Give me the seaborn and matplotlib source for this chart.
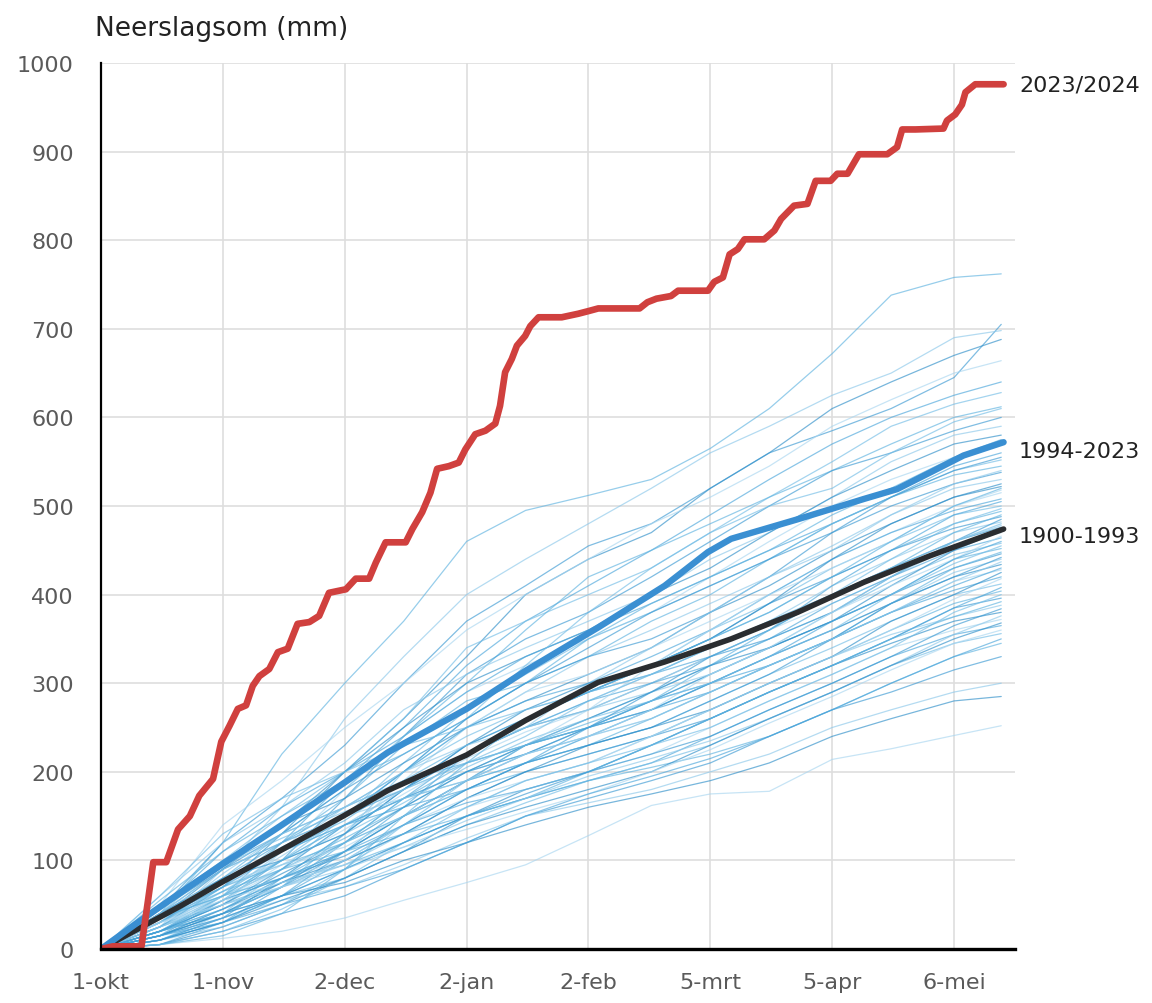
import numpy as np
import pandas as pd
import matplotlib
matplotlib.use("Agg")
import matplotlib.pyplot as plt
import seaborn as sns

# ---------------- data ----------------
tick_days = [0, 31, 62, 93, 124, 155, 186, 217]
tick_labels = ["1-okt", "1-nov", "2-dec", "2-jan", "2-feb", "5-mrt", "5-apr", "6-mei"]
y_ticks = [0, 100, 200, 300, 400, 500, 600, 700, 800, 900, 1000]

# 2023/2024 season (cumulative mm)
red_day = [0, 3, 10.3, 12, 13.3, 16.6, 19.6, 22.6, 25, 28.5, 30.6, 32.7, 34.8, 36.9, 38.6,
           40.3, 42.8, 45, 47.5, 50, 53, 55.5, 58, 62.3, 64.8, 68.2, 69.9, 72.4, 77.5, 79.2,
           81.7, 83.8, 85.5, 88.5, 91, 92.7, 95.2, 97.8, 100.3, 101.5, 102.8, 104.5, 105.8,
           107.9, 109.2, 111.3, 117.2, 121.4, 124, 126.5, 137, 139, 141.3, 145, 146.8, 154.4,
           156, 158.2, 159.9, 162, 163.7, 168.7, 171.3, 173, 176.3, 179.7, 181.8, 185.6, 187.3,
           189.9, 192.8, 200, 202.5, 203.8, 207.2, 214.3, 215.2, 217.3, 219, 219.9, 222.4, 229.6]
red_mm = [0, 3, 3, 56, 98, 98, 135, 150, 173, 192, 234, 252, 271, 275, 297,
          308, 316, 335, 339, 367, 369, 376, 402, 406, 418, 418, 436, 459, 459, 474,
          493, 515, 542, 545, 549, 564, 581, 585, 593, 613, 651, 666, 681,
          692, 703, 713, 713, 717, 720, 723, 723, 730, 734, 737, 743, 743,
          753, 758, 784, 790, 801, 801, 811, 824, 839, 841, 867, 867, 875,
          875, 897, 897, 905, 925, 925, 926, 935, 942, 953, 967, 976, 976]

# mean 1994-2023
blue_day = [0, 10, 20, 31, 46, 62, 73, 93, 108, 126.5, 143.4, 154.4, 160.3, 177.2, 194.1,
            202.5, 211, 219.4, 229.6]
blue_mm = [0, 32, 63, 96, 140, 188, 222, 271, 314, 363, 410, 448, 463, 485, 508,
           519, 538, 557, 572]

# mean 1900-1993
black_day = [0, 10, 20, 31, 46, 62, 73, 93, 108, 126.5, 143.4, 160.3, 177.2, 194.1, 211, 229.6]
black_mm = [0, 24, 48, 76, 112, 151, 179, 219, 258, 301, 324, 350, 380, 414, 444, 474]

# individual seasons (estimated traces)
thin_days = [0, 15, 31, 46, 62, 77, 93, 108, 124, 140, 155, 170, 186, 201, 217, 229]
thin_lines = [
    [0, 40, 120, 220, 300, 370, 460, 495, 512, 530, 565, 610, 672, 738, 758, 762],
    [0, 45, 120, 170, 230, 300, 370, 410, 455, 480, 520, 560, 585, 610, 645, 705],
    [0, 25, 90, 160, 260, 330, 400, 440, 480, 520, 560, 590, 625, 650, 690, 698],
    [0, 35, 70, 130, 200, 260, 330, 400, 440, 470, 520, 560, 610, 640, 670, 688],
    [0, 50, 140, 190, 250, 300, 360, 400, 440, 480, 510, 545, 590, 620, 650, 664],
    [0, 20, 60, 120, 190, 250, 320, 370, 410, 450, 490, 530, 570, 600, 625, 640],
    [0, 40, 100, 150, 200, 260, 340, 370, 400, 430, 470, 510, 550, 590, 615, 628],
    [0, 30, 80, 130, 180, 240, 300, 360, 420, 450, 480, 510, 540, 570, 600, 612],
    [0, 15, 55, 100, 170, 240, 310, 350, 380, 420, 460, 500, 540, 560, 585, 600],
    [0, 60, 120, 160, 210, 270, 310, 340, 370, 400, 440, 470, 510, 550, 580, 590],
    [0, 35, 90, 140, 200, 250, 300, 330, 360, 400, 430, 470, 510, 540, 570, 580],
    [0, 20, 50, 110, 180, 240, 290, 320, 350, 380, 420, 460, 500, 530, 555, 570],
    [0, 45, 110, 160, 200, 240, 290, 330, 360, 390, 420, 450, 480, 510, 545, 560],
    [0, 10, 40, 90, 150, 210, 270, 310, 350, 380, 410, 440, 480, 510, 540, 552],
    [0, 30, 70, 120, 170, 230, 280, 300, 330, 370, 400, 440, 480, 510, 535, 545],
    [0, 40, 90, 130, 180, 220, 260, 300, 340, 380, 410, 440, 470, 500, 525, 538],
    [0, 25, 65, 105, 150, 200, 250, 290, 330, 360, 390, 420, 455, 490, 520, 530],
    [0, 50, 100, 140, 170, 210, 250, 280, 310, 340, 380, 410, 450, 480, 510, 522],
    [0, 15, 45, 80, 130, 190, 250, 290, 310, 340, 370, 400, 440, 470, 500, 515],
    [0, 35, 80, 120, 160, 200, 250, 280, 300, 330, 360, 400, 440, 470, 495, 508],
    [0, 20, 60, 100, 150, 200, 240, 270, 290, 320, 360, 390, 430, 460, 490, 500],
    [0, 40, 75, 110, 145, 190, 230, 260, 290, 320, 350, 380, 420, 450, 480, 494],
    [0, 10, 35, 80, 130, 180, 230, 260, 290, 320, 350, 390, 420, 450, 475, 488],
    [0, 30, 70, 100, 140, 180, 220, 250, 280, 310, 340, 370, 410, 440, 470, 482],
    [0, 45, 90, 120, 150, 180, 220, 250, 270, 300, 330, 360, 400, 430, 460, 476],
    [0, 20, 55, 95, 135, 175, 215, 245, 270, 300, 330, 360, 390, 420, 455, 470],
    [0, 5, 30, 70, 120, 170, 220, 250, 280, 300, 320, 350, 390, 420, 450, 464],
    [0, 35, 65, 100, 130, 165, 205, 235, 260, 290, 320, 350, 380, 415, 445, 458],
    [0, 25, 60, 90, 125, 160, 200, 230, 255, 280, 310, 340, 370, 400, 440, 452],
    [0, 15, 40, 70, 110, 150, 190, 220, 250, 280, 310, 340, 370, 400, 430, 446],
    [0, 40, 80, 110, 140, 170, 200, 220, 240, 270, 300, 330, 360, 390, 425, 440],
    [0, 20, 50, 85, 120, 160, 200, 230, 250, 270, 300, 330, 360, 390, 420, 434],
    [0, 30, 60, 90, 120, 150, 180, 210, 240, 260, 290, 320, 350, 380, 415, 428],
    [0, 10, 30, 60, 100, 140, 180, 210, 240, 270, 300, 320, 350, 380, 405, 420],
    [0, 25, 55, 80, 110, 150, 190, 210, 230, 250, 280, 310, 340, 370, 400, 412],
    [0, 35, 70, 95, 120, 150, 180, 200, 220, 240, 270, 300, 330, 360, 390, 404],
    [0, 15, 40, 70, 100, 130, 170, 200, 220, 240, 260, 290, 320, 350, 385, 396],
    [0, 20, 45, 70, 95, 130, 160, 190, 210, 240, 270, 300, 330, 355, 375, 388],
    [0, 5, 25, 50, 80, 110, 150, 180, 200, 230, 260, 290, 320, 345, 370, 380],
    [0, 30, 60, 80, 100, 130, 160, 180, 200, 220, 250, 280, 310, 340, 360, 372],
    [0, 10, 35, 60, 90, 120, 150, 170, 190, 210, 240, 270, 300, 330, 355, 365],
    [0, 20, 40, 60, 80, 110, 140, 165, 190, 210, 230, 260, 290, 320, 345, 356],
    [0, 25, 50, 75, 95, 120, 150, 170, 190, 205, 220, 240, 270, 300, 330, 345],
    [0, 5, 20, 40, 60, 90, 120, 150, 170, 190, 210, 240, 270, 290, 315, 330],
    [0, 15, 35, 55, 70, 95, 125, 150, 165, 180, 200, 220, 250, 270, 290, 300],
    [0, 20, 40, 60, 75, 100, 120, 140, 160, 175, 190, 210, 240, 260, 280, 285],
    [0, 5, 12, 20, 35, 55, 75, 95, 128, 162, 175, 178, 214, 226, 241, 252],
    [0, 50, 95, 130, 160, 190, 210, 230, 250, 270, 290, 320, 350, 380, 410, 430],
    [0, 20, 40, 70, 130, 200, 260, 320, 380, 430, 470, 500, 520, 560, 595, 610],
    [0, 55, 110, 150, 190, 220, 260, 300, 350, 390, 420, 450, 490, 520, 555, 575],
    [0, 30, 75, 115, 150, 200, 260, 300, 330, 350, 380, 420, 470, 510, 540, 555],
    [0, 15, 60, 110, 160, 190, 220, 250, 300, 340, 380, 420, 450, 490, 525, 540],
    [0, 40, 80, 100, 130, 180, 230, 270, 300, 320, 350, 390, 440, 480, 510, 525],
    [0, 25, 55, 90, 140, 180, 210, 230, 270, 320, 360, 400, 430, 460, 500, 518],
    [0, 10, 30, 60, 110, 160, 220, 260, 290, 310, 330, 360, 410, 450, 490, 505],
    [0, 50, 95, 125, 155, 180, 210, 240, 280, 310, 340, 370, 400, 440, 480, 497],
    [0, 35, 60, 80, 120, 170, 210, 230, 250, 280, 320, 360, 400, 430, 470, 490],
    [0, 20, 50, 90, 140, 170, 200, 220, 250, 290, 330, 350, 380, 420, 460, 485],
    [0, 30, 85, 130, 160, 200, 230, 250, 270, 290, 310, 340, 380, 420, 460, 478],
    [0, 15, 40, 75, 110, 150, 190, 230, 260, 290, 320, 340, 370, 410, 450, 472],
    [0, 45, 75, 95, 115, 150, 190, 220, 240, 270, 310, 340, 380, 410, 440, 466],
    [0, 25, 70, 110, 140, 160, 180, 210, 250, 280, 300, 330, 370, 400, 440, 460],
    [0, 10, 25, 50, 90, 140, 190, 230, 260, 280, 300, 330, 360, 400, 435, 455],
    [0, 35, 60, 100, 140, 170, 190, 210, 230, 260, 290, 320, 350, 390, 430, 448],
    [0, 20, 55, 80, 105, 140, 180, 210, 230, 250, 280, 310, 350, 390, 420, 442],
    [0, 40, 90, 120, 150, 170, 190, 220, 240, 260, 290, 320, 350, 380, 415, 437],
    [0, 15, 45, 75, 100, 130, 170, 200, 230, 250, 270, 300, 330, 370, 400, 425],
    [0, 30, 50, 70, 100, 140, 170, 190, 210, 240, 270, 300, 330, 360, 395, 418],
    [0, 20, 45, 80, 110, 140, 165, 180, 200, 230, 260, 290, 320, 350, 385, 408],
    [0, 5, 20, 45, 80, 120, 160, 190, 210, 230, 250, 280, 310, 340, 380, 400],
    [0, 30, 65, 90, 110, 130, 150, 170, 200, 230, 260, 290, 320, 350, 375, 392],
    [0, 15, 35, 60, 90, 120, 150, 175, 200, 220, 240, 270, 300, 330, 365, 384],
    [0, 25, 50, 70, 90, 115, 145, 170, 195, 215, 235, 260, 290, 320, 355, 376],
    [0, 10, 30, 55, 80, 110, 140, 160, 180, 200, 230, 260, 290, 320, 350, 368],
    [0, 30, 55, 75, 95, 115, 135, 155, 175, 200, 225, 255, 285, 315, 345, 360],
    [0, 15, 30, 50, 70, 90, 120, 150, 175, 195, 215, 240, 270, 300, 330, 350],
    [0, 60, 130, 170, 200, 230, 250, 270, 290, 310, 340, 370, 400, 430, 460, 480],
    [0, 5, 15, 40, 90, 150, 210, 260, 290, 320, 350, 380, 420, 460, 500, 520],
]

series_labels = ["2023/2024", "1994-2023", "1900-1993"]

# ---------------- styling ----------------
sns.set_style("white")
plt.rcParams["font.family"] = ["DejaVu Sans"]

fig = plt.figure(figsize=(11.52, 10.04), dpi=100)
ax = fig.add_axes([101 / 1152, 54 / 1004, 914 / 1152, 886 / 1004])

rows = []
for i, vals in enumerate(thin_lines):
    for d, v in zip(thin_days, vals):
        rows.append((f"L{i:02d}", d, v))
df = pd.DataFrame(rows, columns=["line", "day", "mm"])
thin_colors = ["#5fb3e0", "#3c9ad3", "#8cc8ea", "#2f8fc9", "#a9d6f0", "#4ba6db", "#73bde6"]
pal = [thin_colors[i % len(thin_colors)] for i in range(len(thin_lines))]

sns.lineplot(data=df, x="day", y="mm", hue="line", units="line", estimator=None,
             palette=pal, lw=0.9, alpha=0.65, legend=False, ax=ax)

sns.lineplot(x=black_day, y=black_mm, estimator=None, color="#2a2d30", lw=4.0, ax=ax)
sns.lineplot(x=blue_day, y=blue_mm, estimator=None, color="#3a8fd2", lw=4.6, ax=ax)
sns.lineplot(x=red_day, y=red_mm, estimator=None, color="#d0403e", lw=4.8, ax=ax)

ax.set_xlim(0, 232.5)
ax.set_ylim(0, 1000)
ax.set_xticks(tick_days)
ax.set_xticklabels(tick_labels)
ax.set_yticks(y_ticks)
ax.set_xlabel("")
ax.set_ylabel("")

ax.set_axisbelow(True)
ax.grid(True, color="#dedede", lw=1.2)
for s in ["top", "right"]:
    ax.spines[s].set_visible(False)
ax.spines["left"].set_color("black")
ax.spines["left"].set_linewidth(1.6)
ax.spines["bottom"].set_color("black")
ax.spines["bottom"].set_linewidth(2.4)

ax.tick_params(axis="both", direction="out", length=5.5, width=1.5, color="black",
               labelsize=16, labelcolor="#5a5a5a")
ax.tick_params(axis="x", pad=11)
ax.tick_params(axis="y", pad=14)

fig.text(95 / 1152, 1 - 36 / 1004, "Neerslagsom (mm)", fontsize=19, va="baseline",
         color="#222222")

ends = [(red_day[-1], red_mm[-1], 0), (blue_day[-1], blue_mm[-1], -6),
        (black_day[-1], black_mm[-1], -5)]
for (xd, yd, dy), lab in zip(ends, series_labels):
    ax.annotate(lab, xy=(xd, yd), xytext=(11, dy), textcoords="offset points",
                va="center", ha="left", fontsize=16, color="#222222",
                annotation_clip=False)

fig.savefig("out.png", dpi=100)
